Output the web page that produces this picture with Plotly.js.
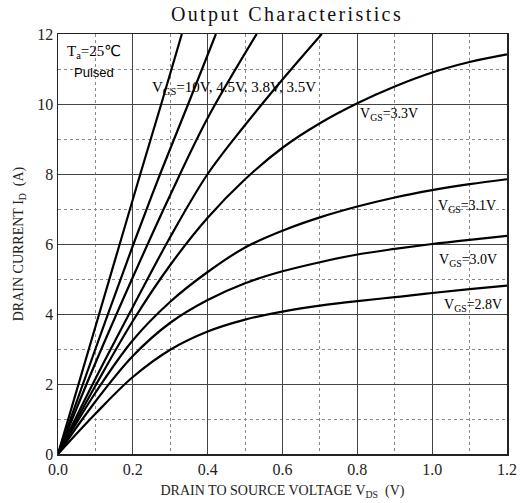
<!DOCTYPE html>
<html>
<head>
<meta charset="utf-8">
<script src="https://cdn.plot.ly/plotly-3.0.1.min.js"></script>
<style>
  html, body { margin: 0; padding: 0; background: #fff; }
  #chart { width: 520px; height: 503px; }
  .gtitle { letter-spacing: 2.4px; }
</style>
</head>
<body>
<div id="chart"></div>
<script>
// Series: drain-source voltage (V) and drain current (A)
const vds_10V  = [0, 0.11, 0.165, 0.22, 0.276, 0.331];
const id_10V   = [0, 4.0, 6, 8, 10, 12];

const vds_4p5V = [0, 0.1, 0.2, 0.273, 0.348, 0.422];
const id_4p5V  = [0, 3.0, 5.95, 8, 10, 12];

const vds_3p8V = [0, 0.1, 0.2, 0.3, 0.4, 0.531];
const id_3p8V  = [0, 2.6, 5.05, 7.4, 9.6, 12];

const vds_3p5V = [0, 0.1, 0.2, 0.3, 0.4, 0.5, 0.6, 0.705];
const id_3p5V  = [0, 2.15, 4.2, 6.2, 8.0, 9.4, 10.7, 12];

const vds_3p3V = [0, 0.1, 0.2, 0.3, 0.4, 0.5, 0.6, 0.7, 0.8, 0.9, 1.0, 1.1, 1.2];
const id_3p3V  = [0, 1.95, 3.8, 5.4, 6.75, 7.85, 8.75, 9.45, 10.02, 10.5, 10.9, 11.2, 11.42];

const vds_3p1V = [0, 0.1, 0.2, 0.3, 0.4, 0.5, 0.6, 0.7, 0.8, 0.9, 1.0, 1.1, 1.2];
const id_3p1V  = [0, 1.75, 3.25, 4.35, 5.2, 5.9, 6.38, 6.76, 7.07, 7.33, 7.54, 7.71, 7.85];

const vds_3p0V = [0, 0.1, 0.2, 0.3, 0.4, 0.5, 0.6, 0.7, 0.8, 0.9, 1.0, 1.1, 1.2];
const id_3p0V  = [0, 1.5, 2.8, 3.75, 4.4, 4.88, 5.22, 5.48, 5.7, 5.86, 6.0, 6.12, 6.23];

const vds_2p8V = [0, 0.1, 0.2, 0.3, 0.4, 0.5, 0.6, 0.7, 0.8, 0.9, 1.0, 1.1, 1.2];
const id_2p8V  = [0, 1.15, 2.2, 2.98, 3.5, 3.84, 4.07, 4.24, 4.37, 4.48, 4.6, 4.71, 4.81];

const xTickVals = [0, 0.2, 0.4, 0.6, 0.8, 1.0, 1.2];
const xTickText = ['0.0', '0.2', '0.4', '0.6', '0.8', '1.0', '1.2'];
const yTickVals = [0, 2, 4, 6, 8, 10, 12];
const yTickText = ['0', '2', '4', '6', '8', '10', '12'];

const chartTitle = 'Output Characteristics';
const xTitle = 'DRAIN TO SOURCE VOLTAGE V<sub>DS</sub>  (V)';
const yTitle = 'DRAIN CURRENT I<sub>D</sub>  (A)';

const seriesList = [
  [vds_10V, id_10V, 'VGS=10V'],
  [vds_4p5V, id_4p5V, 'VGS=4.5V'],
  [vds_3p8V, id_3p8V, 'VGS=3.8V'],
  [vds_3p5V, id_3p5V, 'VGS=3.5V'],
  [vds_3p3V, id_3p3V, 'VGS=3.3V'],
  [vds_3p1V, id_3p1V, 'VGS=3.1V'],
  [vds_3p0V, id_3p0V, 'VGS=3.0V'],
  [vds_2p8V, id_2p8V, 'VGS=2.8V']
];

const traces = seriesList.map(s => ({
  x: s[0], y: s[1], name: s[2],
  type: 'scatter', mode: 'lines',
  line: { color: '#000', width: 2.2, shape: 'spline', smoothing: 1 },
  hoverinfo: 'skip', showlegend: false
}));

const serif = 'Liberation Serif, DejaVu Serif, serif';
const sans = 'Liberation Sans, Arial, sans-serif';

const annotations = [
  { x: 0.019, y: 11.5, xref: 'x', yref: 'y', xanchor: 'left', yanchor: 'middle',
    text: 'T<sub>a</sub>=25<span style="font-family:DejaVu Sans">℃</span>', showarrow: false,
    font: { family: serif, size: 15, color: '#000' } },
  { x: 0.037, y: 10.89, xref: 'x', yref: 'y', xanchor: 'left', yanchor: 'middle',
    text: 'Pulsed', showarrow: false,
    font: { family: sans, size: 13, color: '#000' } },
  { x: 0.246, y: 10.46, xref: 'x', yref: 'y', xanchor: 'left', yanchor: 'middle',
    text: 'V<sub>GS</sub>=10V, 4.5V, 3.8V, 3.5V', showarrow: false,
    font: { family: serif, size: 15, color: '#000' } },
  { x: 0.802, y: 9.71, xref: 'x', yref: 'y', xanchor: 'left', yanchor: 'middle',
    text: 'V<sub>GS</sub>=3.3V', showarrow: false,
    font: { family: serif, size: 14, color: '#000' } },
  { x: 1.011, y: 7.07, xref: 'x', yref: 'y', xanchor: 'left', yanchor: 'middle',
    text: 'V<sub>GS</sub>=3.1V', showarrow: false,
    font: { family: serif, size: 14, color: '#000' } },
  { x: 1.013, y: 5.54, xref: 'x', yref: 'y', xanchor: 'left', yanchor: 'middle',
    text: 'V<sub>GS</sub>=3.0V', showarrow: false,
    font: { family: serif, size: 14, color: '#000' } },
  { x: 1.027, y: 4.24, xref: 'x', yref: 'y', xanchor: 'left', yanchor: 'middle',
    text: 'V<sub>GS</sub>=2.8V', showarrow: false,
    font: { family: serif, size: 14, color: '#000' } }
];

const layout = {
  width: 520, height: 503,
  margin: { l: 58, r: 13, t: 34, b: 49, pad: 0 },
  paper_bgcolor: '#fff', plot_bgcolor: '#fff',
  title: { text: chartTitle, x: 0.51, xref: 'paper', y: 0.972, yref: 'container',
           xanchor: 'center', yanchor: 'middle',
           font: { family: serif, size: 20, color: '#111' } },
  xaxis: {
    range: [0, 1.2], fixedrange: true,
    tickvals: xTickVals, ticktext: xTickText, ticks: '',
    tickfont: { family: serif, size: 16, color: '#222' },
    showgrid: true, gridcolor: '#444', gridwidth: 1,
    minor: { dtick: 0.1, tick0: 0, showgrid: true, gridcolor: '#888', griddash: 'dot', gridwidth: 1 },
    showline: true, linecolor: '#222', linewidth: 1.5, mirror: true,
    zeroline: false,
    title: { text: xTitle, standoff: 8, font: { family: serif, size: 14, color: '#222' } }
  },
  yaxis: {
    range: [0, 12], fixedrange: true,
    tickvals: yTickVals, ticktext: yTickText, ticks: '',
    tickfont: { family: serif, size: 16, color: '#222' },
    showgrid: true, gridcolor: '#444', gridwidth: 1,
    minor: { dtick: 1, tick0: 0, showgrid: true, gridcolor: '#888', griddash: 'dot', gridwidth: 1 },
    showline: true, linecolor: '#222', linewidth: 1.5, mirror: true,
    zeroline: false,
    title: { text: yTitle, standoff: 10, font: { family: serif, size: 14, color: '#222' } }
  },
  annotations: annotations
};

Plotly.newPlot('chart', traces, layout, { displayModeBar: false, staticPlot: true });
</script>
</body>
</html>
